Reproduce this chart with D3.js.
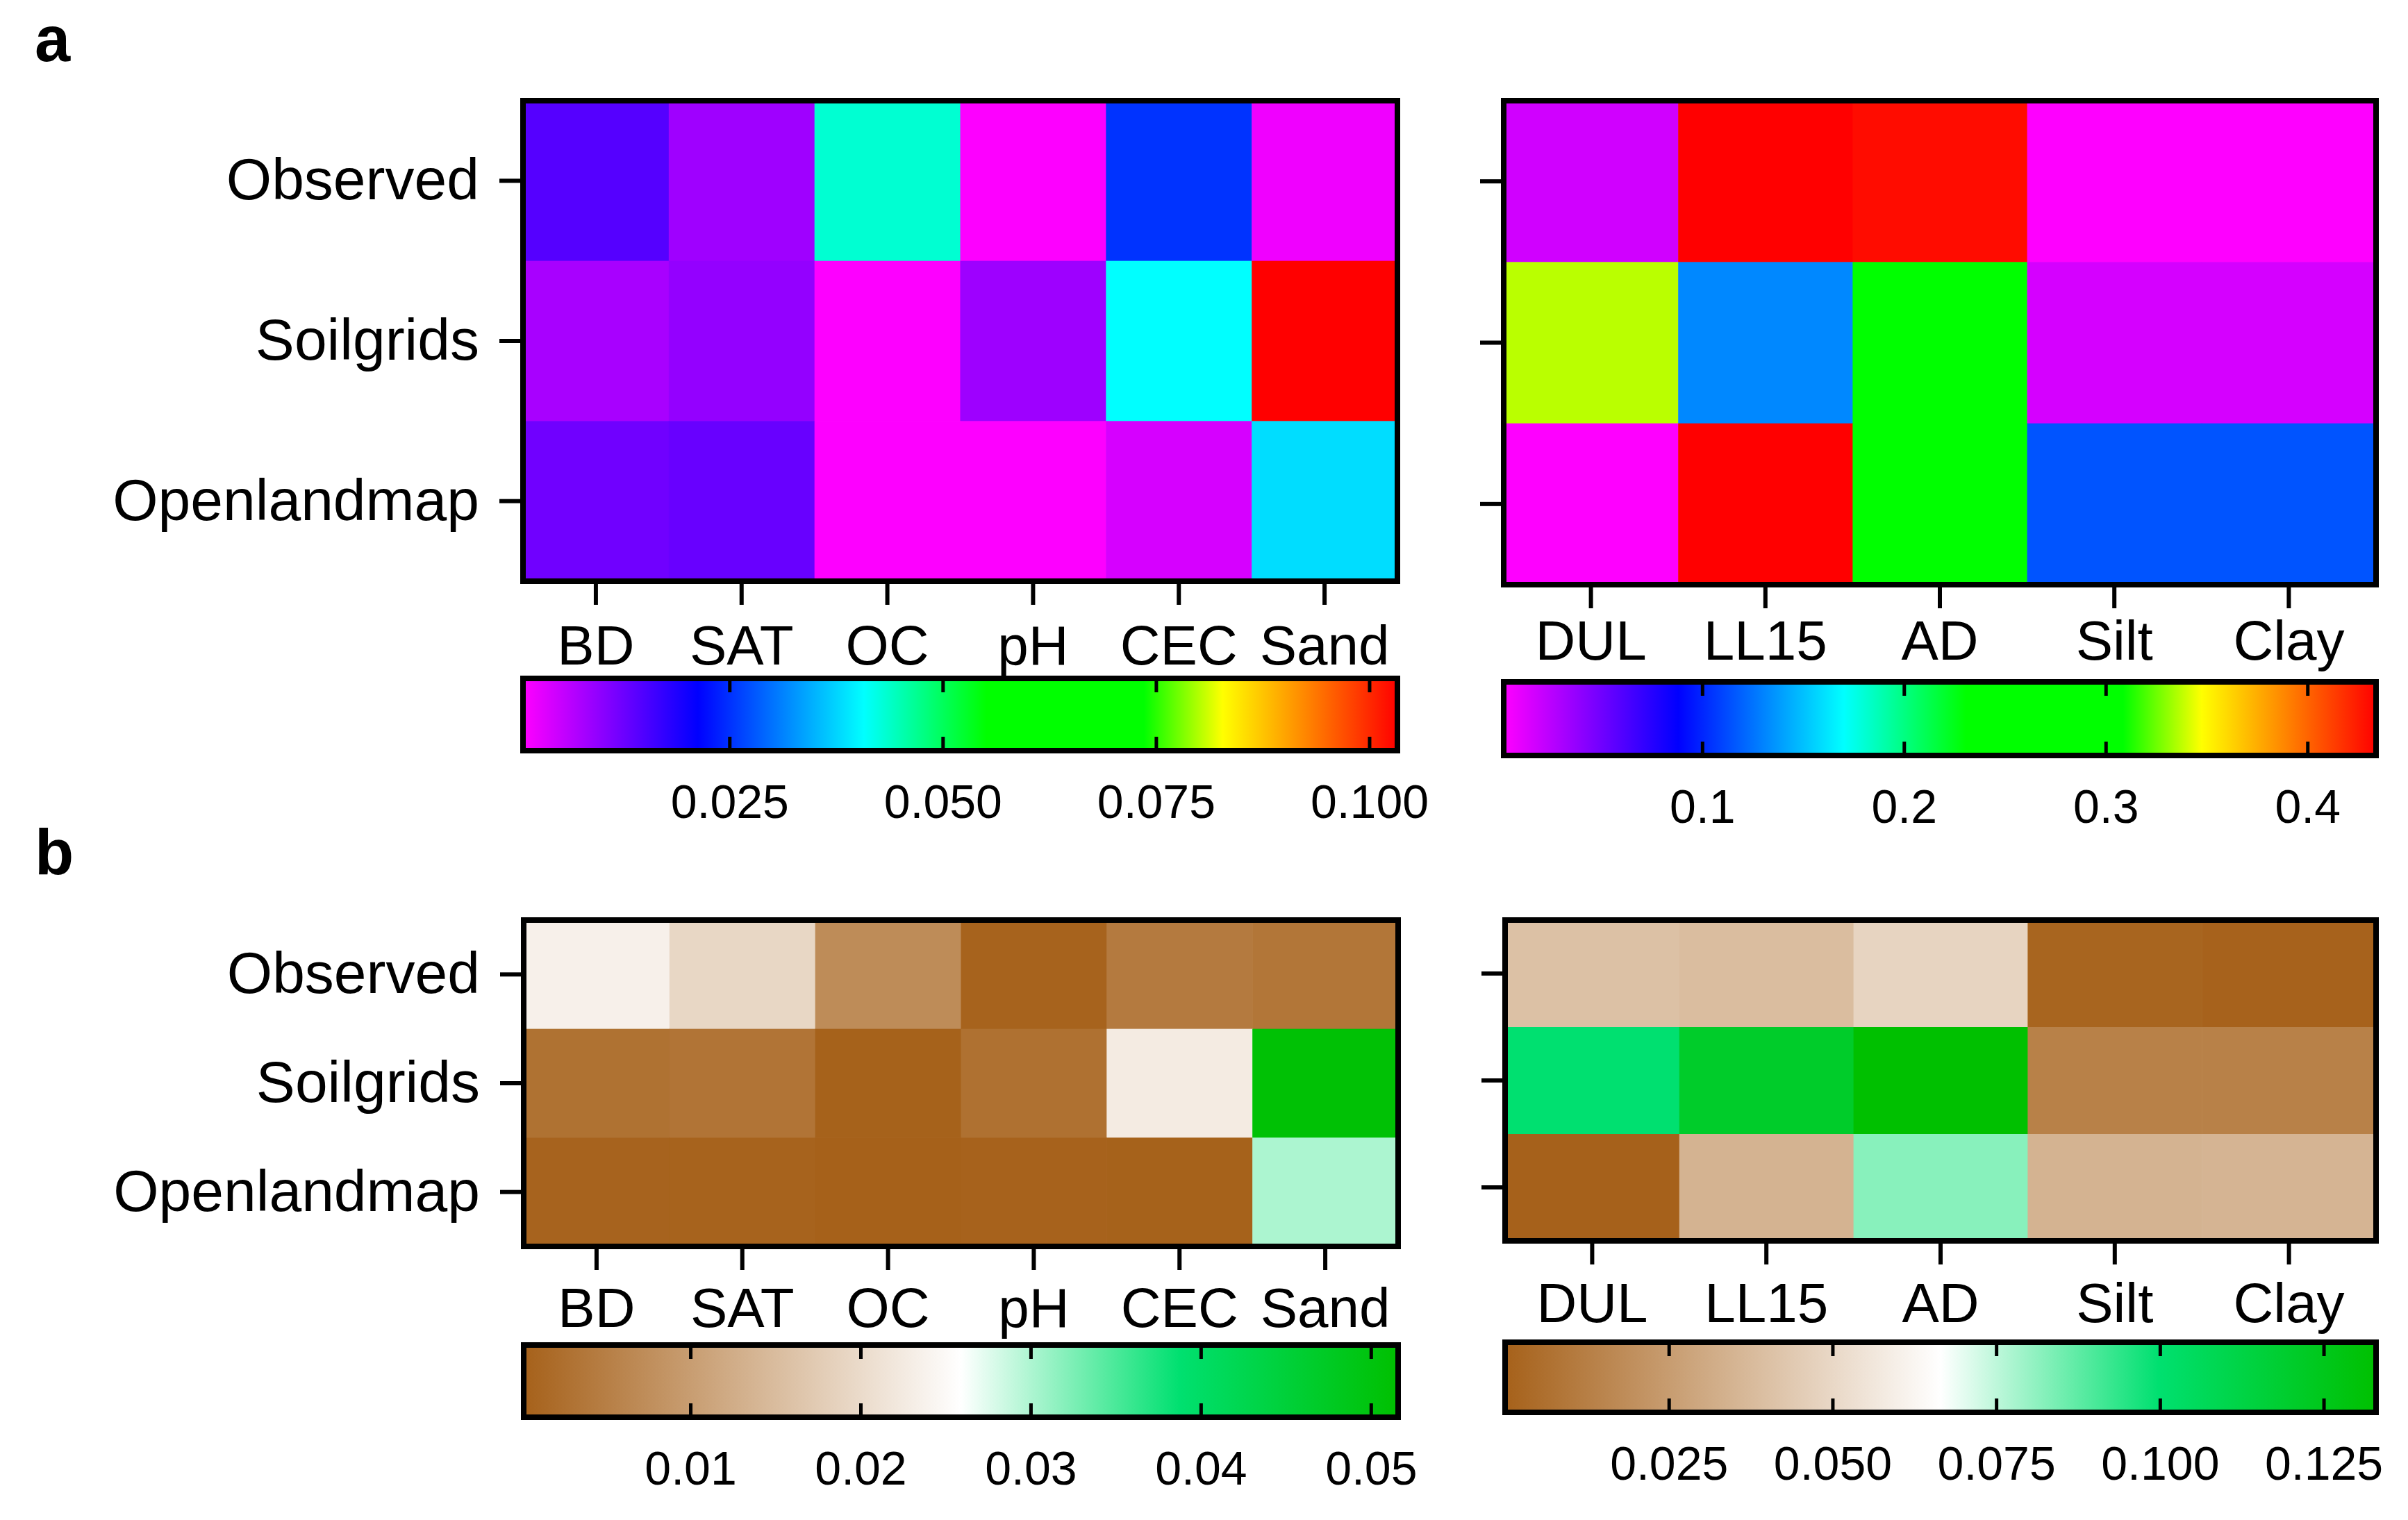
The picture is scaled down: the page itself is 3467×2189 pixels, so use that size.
<!DOCTYPE html>
<html>
<head>
<meta charset="utf-8">
<script src="https://cdn.jsdelivr.net/npm/d3@7"></script>
<style>
  body { margin: 0; background: #fff; }
  svg text { font-family: "Liberation Sans", Arial, sans-serif; fill: #000; }
</style>
</head>
<body>
<svg id="chart" width="3467" height="2189"></svg>
<script>
const rows = ["Observed", "Soilgrids", "Openlandmap"];
const soilCols = ["BD", "SAT", "OC", "pH", "CEC", "Sand"];
const waterCols = ["DUL", "LL15", "AD", "Silt", "Clay"];

// panel a, one array per row: Observed, Soilgrids, Openlandmap
const aSoil = [
  [0.0145, 0.0085, 0.0433, 0.001, 0.0252, 0.002],
  [0.0078, 0.0094, 0.001, 0.0086, 0.0408, 0.1033],
  [0.0123, 0.0129, 0.001, 0.001, 0.0041, 0.0382]
];
const aWater = [
  [0.0176, 0.434, 0.43, 0.002, 0.002],
  [0.337, 0.132, 0.261, 0.016, 0.016],
  [0.002, 0.434, 0.262, 0.115, 0.115]
];
// panel b
const bSoil = [
  [0.0235, 0.0194, 0.0072, 0.0005, 0.0043, 0.0036],
  [0.0029, 0.0033, 0.0003, 0.0028, 0.0227, 0.051],
  [0.0006, 0.0005, 0.0002, 0.0004, 0.0003, 0.0301]
];
const bWater = [
  [0.0403, 0.0386, 0.0486, 0.0015, 0.0005],
  [0.0998, 0.1205, 0.133, 0.0133, 0.0133],
  [0.0002, 0.0345, 0.082, 0.0345, 0.035]
];

const aSoilDomain = [0.0008, 0.1033];
const aWaterDomain = [0.0016, 0.434];
const bSoilDomain = [0.0002, 0.0516];
const bWaterDomain = [0, 0.133];

const aSoilTicks = [0.025, 0.05, 0.075, 0.1];
const aWaterTicks = [0.1, 0.2, 0.3, 0.4];
const bSoilTicks = [0.01, 0.02, 0.03, 0.04, 0.05];
const bWaterTicks = [0.025, 0.05, 0.075, 0.1, 0.125];

// colour maps: position along the bar (0..1) and colour at that position
const rainbowStops = [0, 0.2, 0.39, 0.53, 0.71, 0.8, 1];
const rainbowColors = ["#ff00ff", "#0000ff", "#00ffff", "#00ff00", "#00ff00", "#ffff00", "#ff0000"];
const brownGreenStops = [0, 0.5, 0.75, 1];
const brownGreenColors = ["#a6611a", "#ffffff", "#00e070", "#00c000"];

const BORDER = 8;
const ROW_FONT = 84;
const COL_FONT = 80;
const TICK_FONT = 68;

const svg = d3.select("#chart");
const defs = svg.append("defs");

const panels = [
  { id: "aSoil", values: aSoil, cols: soilCols, domain: aSoilDomain, ticks: aSoilTicks, fmt: ".3f",
    stops: rainbowStops, colors: rainbowColors, showRows: true,
    x0: 753, x1: 2012, y0: 145, y1: 837, labelPad: 29, bar: [977, 1081] },
  { id: "aWater", values: aWater, cols: waterCols, domain: aWaterDomain, ticks: aWaterTicks, fmt: ".1f",
    stops: rainbowStops, colors: rainbowColors, showRows: false,
    x0: 2165, x1: 3421, y0: 145, y1: 842, labelPad: 17, bar: [982, 1088] },
  { id: "bSoil", values: bSoil, cols: soilCols, domain: bSoilDomain, ticks: bSoilTicks, fmt: ".2f",
    stops: brownGreenStops, colors: brownGreenColors, showRows: true,
    x0: 754, x1: 2013, y0: 1325, y1: 1795, labelPad: 25, bar: [1937, 2041] },
  { id: "bWater", values: bWater, cols: waterCols, domain: bWaterDomain, ticks: bWaterTicks, fmt: ".3f",
    stops: brownGreenStops, colors: brownGreenColors, showRows: false,
    x0: 2167, x1: 3421, y0: 1325, y1: 1787, labelPad: 26, bar: [1933, 2034] }
];

const styleAxis = (a, size) => {
  a.select(".domain").remove();
  a.selectAll("line").attr("stroke", "#000").attr("stroke-width", 6);
  a.selectAll("text").attr("font-size", size);
};

const drawPanel = (p) => {
  const g = svg.append("g").attr("class", `panel-${p.id}`);

  const x = d3.scaleBand().domain(p.cols).range([p.x0, p.x1]);
  const y = d3.scaleBand().domain(rows).range([p.y0, p.y1]);
  const span = p.domain[1] - p.domain[0];
  const color = d3.scaleLinear()
    .domain(p.stops.map(s => p.domain[0] + s * span))
    .range(p.colors)
    .clamp(true);

  const cells = p.values.flatMap((row, i) => row.map((v, j) => ({ row: rows[i], col: p.cols[j], v })));

  g.selectAll("rect.cell")
    .data(cells)
    .join("rect")
    .attr("class", "cell")
    .attr("x", d => x(d.col))
    .attr("y", d => y(d.row))
    .attr("width", x.bandwidth() + 0.6)
    .attr("height", y.bandwidth() + 0.6)
    .attr("fill", d => color(d.v));

  // heatmap frame
  g.append("rect")
    .attr("x", p.x0).attr("y", p.y0)
    .attr("width", p.x1 - p.x0).attr("height", p.y1 - p.y0)
    .attr("fill", "none").attr("stroke", "#000").attr("stroke-width", BORDER);

  // row axis
  const yAxis = d3.axisLeft(y).tickSize(30).tickPadding(29);
  if (!p.showRows) yAxis.tickFormat("");
  g.append("g")
    .attr("transform", `translate(${p.x0 - BORDER / 2},0)`)
    .call(yAxis)
    .call(a => styleAxis(a, ROW_FONT));

  // column axis
  g.append("g")
    .attr("transform", `translate(0,${p.y1 + BORDER / 2})`)
    .call(d3.axisBottom(x).tickSize(30).tickPadding(p.labelPad))
    .call(a => styleAxis(a, COL_FONT));

  // colour bar
  const bx = d3.scaleLinear().domain(p.domain).range([p.x0, p.x1]);
  const grad = defs.append("linearGradient")
    .attr("id", `grad-${p.id}`)
    .attr("gradientUnits", "userSpaceOnUse")
    .attr("x1", p.x0).attr("x2", p.x1).attr("y1", 0).attr("y2", 0);
  grad.selectAll("stop")
    .data(color.domain())
    .join("stop")
    .attr("offset", d => (bx(d) - p.x0) / (p.x1 - p.x0))
    .attr("stop-color", d => color(d));

  g.append("rect")
    .attr("x", p.x0).attr("y", p.bar[0])
    .attr("width", p.x1 - p.x0).attr("height", p.bar[1] - p.bar[0])
    .attr("fill", `url(#grad-${p.id})`);

  // inner tick marks, top and bottom edge
  g.append("g")
    .attr("transform", `translate(0,${p.bar[0]})`)
    .call(d3.axisBottom(bx).tickValues(p.ticks).tickSize(20).tickFormat(""))
    .call(a => { styleAxis(a, 0); a.selectAll("line").attr("stroke-width", 5); });
  g.append("g")
    .attr("transform", `translate(0,${p.bar[1]})`)
    .call(d3.axisTop(bx).tickValues(p.ticks).tickSize(20).tickFormat(""))
    .call(a => { styleAxis(a, 0); a.selectAll("line").attr("stroke-width", 5); });

  g.append("rect")
    .attr("x", p.x0).attr("y", p.bar[0])
    .attr("width", p.x1 - p.x0).attr("height", p.bar[1] - p.bar[0])
    .attr("fill", "none").attr("stroke", "#000").attr("stroke-width", BORDER);

  // colour bar labels
  g.append("g")
    .attr("transform", `translate(0,${p.bar[1] + BORDER / 2})`)
    .call(d3.axisBottom(bx).tickValues(p.ticks).tickSize(0).tickPadding(45).tickFormat(d3.format(p.fmt)))
    .call(a => styleAxis(a, TICK_FONT));
};

panels.forEach(drawPanel);

// panel letters
svg.append("text").attr("x", 50).attr("y", 88)
  .attr("font-size", 92).attr("font-weight", "bold").text("a");
svg.append("text").attr("x", 50).attr("y", 1259)
  .attr("font-size", 92).attr("font-weight", "bold").text("b");
</script>
</body>
</html>
